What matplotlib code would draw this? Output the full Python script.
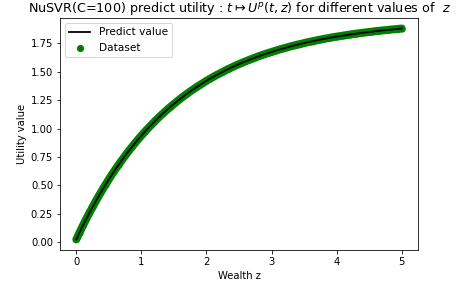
import matplotlib
matplotlib.use("Agg")
import matplotlib.pyplot as plt

wealth = [i * 0.05 for i in range(101)]
utility = [
    0.025, 0.086, 0.145, 0.202, 0.257, 0.310, 0.362, 0.412, 0.461, 0.508,
    0.554, 0.598, 0.641, 0.682, 0.722, 0.761, 0.799, 0.835, 0.871, 0.905,
    0.938, 0.970, 1.001, 1.031, 1.060, 1.089, 1.116, 1.142, 1.168, 1.193,
    1.217, 1.240, 1.263, 1.285, 1.306, 1.327, 1.346, 1.366, 1.384, 1.402,
    1.420, 1.437, 1.453, 1.469, 1.484, 1.499, 1.514, 1.528, 1.541, 1.555,
    1.567, 1.580, 1.591, 1.603, 1.614, 1.625, 1.636, 1.646, 1.656, 1.665,
    1.674, 1.683, 1.692, 1.700, 1.708, 1.716, 1.724, 1.731, 1.739, 1.745,
    1.752, 1.759, 1.765, 1.771, 1.777, 1.783, 1.788, 1.794, 1.799, 1.804,
    1.809, 1.813, 1.818, 1.822, 1.827, 1.831, 1.835, 1.839, 1.843, 1.846,
    1.850, 1.853, 1.857, 1.860, 1.863, 1.866, 1.869, 1.872, 1.874, 1.877,
    1.880,
]
predict = utility

fig = plt.figure(figsize=(466 / 72, 295 / 72), dpi=72)
ax = fig.add_axes([60 / 466, 1 - 250 / 295, 358 / 466, 232 / 295])
ax.plot(wealth, predict, color="black", lw=1.8, label="Predict value", zorder=4)
# dense dataset band (points drawn very close together)
ax.plot(wealth, utility, color="green", lw=8, solid_capstyle="round", zorder=2)
ax.scatter(wealth, utility, color="green", s=36, linewidths=0, label="Dataset", zorder=3)
ax.set_xlabel("Wealth z")
ax.set_ylabel("Utility value")
ax.set_title(r"NuSVR(C=100) predict utility : $t \mapsto U^p(t,z)$ for different values of  $z$",
             fontsize=12.7)
ax.legend(loc="upper left", markerscale=1.2, fontsize=10.5)
fig.savefig("out.png", dpi=72)
